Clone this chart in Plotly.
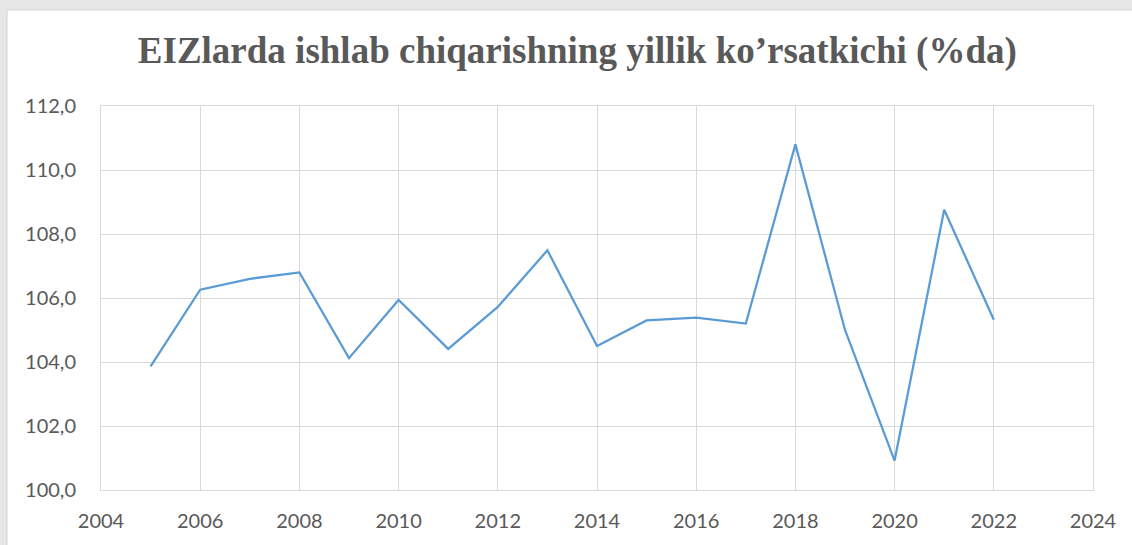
import plotly.graph_objects as go

years = [2005, 2006, 2007, 2008, 2009, 2010, 2011, 2012, 2013, 2014,
         2015, 2016, 2017, 2018, 2019, 2020, 2021, 2022]
values = [103.86, 106.26, 106.6, 106.8, 104.12, 105.94, 104.41, 105.72, 107.49, 104.5,
          105.3, 105.39, 105.2, 110.8, 105.0, 100.92, 108.76, 105.32]
title_text = "EIZlarda ishlab chiqarishning yillik ko’rsatkichi (%da)"
x_ticks = list(range(2004, 2025, 2))
y_ticks = list(range(100, 113, 2))

fig = go.Figure()
fig.add_trace(go.Scatter(x=years, y=values, mode="lines",
                         line=dict(color="#5b9bd5", width=2.25),
                         hoverinfo="x+y"))

W, H = 1132, 545
L, R, T, B = 101, 39, 106, 55
pw, ph = W - L - R, H - T - B

def px_x(p):
    return (p - L) / pw

def px_y(p):
    return (H - B - p) / ph

fig.add_shape(type="rect", xref="paper", yref="paper",
              x0=px_x(7), x1=px_x(W + 10), y0=px_y(H + 10), y1=px_y(10),
              fillcolor="white", line=dict(color="#d4d4d4", width=1), layer="below")

grid = "#d9d9d9"
fig.update_layout(
    width=W, height=H,
    margin=dict(l=L, r=R, t=T, b=B),
    paper_bgcolor="#e7e7e7",
    plot_bgcolor="white",
    separators=", ",
    showlegend=False,
    title=dict(text="<b>" + title_text + "</b>", x=0.51, xref="container", xanchor="center",
               y=1 - 50 / H, yref="container", yanchor="middle",
               font=dict(family="Liberation Serif", size=37, color="#595959")),
    font=dict(family="Lato", size=20, color="#595959"),
)
fig.update_xaxes(range=[2004, 2024], tickvals=x_ticks, tickformat="d", automargin=False,
                 showgrid=True, gridcolor=grid, gridwidth=1,
                 showline=True, linecolor=grid, linewidth=1, mirror=True,
                 zeroline=False, ticks="outside", ticklen=13, tickcolor="rgba(0,0,0,0)",
                 tickfont=dict(family="Lato", size=20, color="#595959"))
fig.update_yaxes(range=[100, 112], tickvals=y_ticks, tickformat=".1f", automargin=False,
                 showgrid=True, gridcolor=grid, gridwidth=1,
                 showline=True, linecolor=grid, linewidth=1, mirror=True,
                 zeroline=False, ticks="outside", ticklen=20, tickcolor="rgba(0,0,0,0)",
                 tickfont=dict(family="Lato", size=20, color="#595959"))

fig.write_html("out.html", config={"displayModeBar": False},
               post_script="document.body.style.margin='0px';document.body.style.overflow='hidden';")
